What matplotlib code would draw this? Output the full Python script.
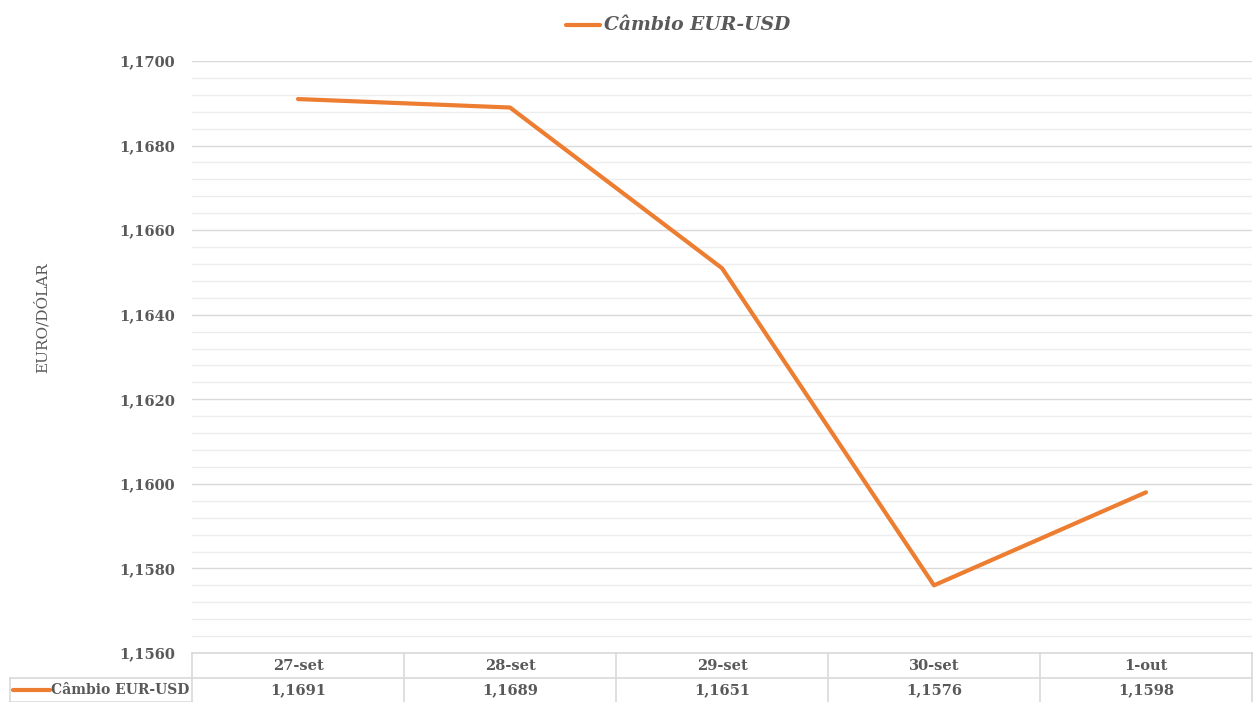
import matplotlib
matplotlib.use("Agg")
import matplotlib.pyplot as plt
from matplotlib.ticker import MultipleLocator, FuncFormatter
import matplotlib.transforms as mtransforms

categories = ["27-set", "28-set", "29-set", "30-set", "1-out"]
values = [1.1691, 1.1689, 1.1651, 1.1576, 1.1598]
series_name = "Câmbio EUR-USD"
y_label = "EURO/DÓLAR"

ORANGE = "#ED7D31"
TXT = "#595959"
GRID = "#D9D9D9"
MINOR = "#EDEDED"

plt.rcParams["font.family"] = ["DejaVu Serif"]

W, H = 1253, 702
fig = plt.figure(figsize=(W / 100, H / 100), dpi=100)
ax = fig.add_axes([192 / W, 1 - 653 / H, (1252 - 192) / W, (653 - 61) / H])

x = list(range(len(categories)))
ax.plot(x, values, color=ORANGE, lw=3.0, solid_capstyle="round", zorder=3)

ax.set_xlim(-0.5, len(categories) - 0.5)
ax.set_ylim(1.1560, 1.1700)
ax.yaxis.set_major_locator(MultipleLocator(0.002))
ax.yaxis.set_minor_locator(MultipleLocator(0.0004))
ax.yaxis.set_major_formatter(FuncFormatter(lambda v, p: f"{v:.4f}".replace(".", ",")))
ax.grid(which="major", axis="y", color=GRID, lw=1.0)
ax.grid(which="minor", axis="y", color=MINOR, lw=1.0)
ax.set_axisbelow(True)
for s in ax.spines.values():
    s.set_visible(False)
ax.tick_params(axis="y", which="both", length=0, pad=12, labelcolor=TXT, labelsize=10.5)
for lab in ax.get_yticklabels():
    lab.set_fontweight("bold")
ax.set_xticks([])

fig.text(42 / W, 1 - 318 / H, y_label, rotation=90, ha="center", va="center",
         color=TXT, fontsize=11)

# data table below plot
trans = mtransforms.blended_transform_factory(ax.transData, ax.transAxes)
row_h = 25 / (653 - 61)
y0 = 0.0
y1 = -row_h
y2 = -2 * row_h + 0.0005
edges = [i - 0.5 for i in range(len(categories) + 1)]
for e in edges:
    ax.plot([e, e], [y0, y2], transform=trans, color=GRID, lw=1.2, clip_on=False)
for yy in (y0, y1, y2):
    ax.plot([edges[0], edges[-1]], [yy, yy], transform=trans, color=GRID, lw=1.2, clip_on=False)
for i, (c, v) in enumerate(zip(categories, values)):
    ax.text(i, (y0 + y1) / 2, c, transform=trans, ha="center", va="center",
            color=TXT, fontsize=10.5, fontweight="bold")
    ax.text(i, (y1 + y2) / 2, f"{v:.4f}".replace(".", ","), transform=trans,
            ha="center", va="center", color=TXT, fontsize=10.5, fontweight="bold")

# legend cell in table
fy1 = 1 - 678 / H
fy2 = 1 - 701.5 / H
fx0 = 10 / W
fx1 = 192 / W
for (xa, xb, ya, yb) in [(fx0, fx1, fy1, fy1), (fx0, fx1, fy2, fy2), (fx0, fx0, fy1, fy2)]:
    fig.add_artist(plt.Line2D([xa, xb], [ya, yb], transform=fig.transFigure, color=GRID, lw=1.2))
fig.add_artist(plt.Line2D([13 / W, 50 / W], [(fy1 + fy2) / 2] * 2, transform=fig.transFigure,
                          color=ORANGE, lw=3.0, solid_capstyle="round"))
fig.text(51 / W, (fy1 + fy2) / 2, series_name, ha="left", va="center", color=TXT,
         fontsize=10, fontweight="bold")

# top legend
ly = 1 - 25 / H
fig.add_artist(plt.Line2D([566 / W, 600 / W], [ly, ly], transform=fig.transFigure,
                          color=ORANGE, lw=3.0, solid_capstyle="round"))
fig.text(604 / W, ly, series_name, ha="left", va="center", color=TXT,
         fontsize=13.5, fontweight="bold", fontstyle="italic")

fig.savefig("out.png", dpi=100, facecolor="white")
